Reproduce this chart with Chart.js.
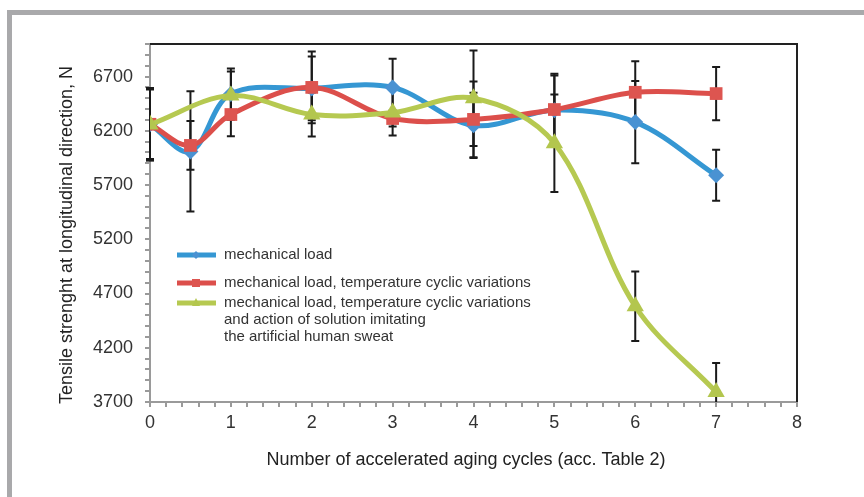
<!DOCTYPE html>
<html>
<head>
<meta charset="utf-8">
<script src="https://cdn.jsdelivr.net/npm/chart.js@4.4.1/dist/chart.umd.min.js"></script>
<style>
  html, body { margin: 0; padding: 0; background: #fff; }
  #wrap { width: 864px; height: 497px; position: relative; }
</style>
</head>
<body>
<div id="wrap"><canvas id="mychart"></canvas></div>
<script>
// cycles
var cyclesAB = [0, 0.5, 1, 2, 3, 4, 5, 6, 7];
var cyclesC = [0, 1, 2, 3, 4, 5, 6, 7];

// mechanical load
var loadVals = [6260, 6010, 6540, 6590, 6600, 6250, 6390, 6280, 5790];
var loadErr = [335, 555, 235, 294, 265, 300, 320, 380, 235];

// mechanical load, temperature cyclic variations
var tempVals = [6260, 6065, 6350, 6600, 6313, 6305, 6396, 6555, 6543];
var tempErr = [320, 225, 200, 330, 73, 350, 330, 285, 245];

// + artificial sweat
var sweatVals = [6258, 6525, 6350, 6368, 6500, 6085, 4582, 3792];
var sweatErr = [330, 222, 202, 211, 440, 450, 320, 267];

var labels = [
  ['mechanical load'],
  ['mechanical load, temperature cyclic variations'],
  ['mechanical load, temperature cyclic variations', 'and action of solution imitating', 'the artificial human sweat']
];

var yLabelFrom = 3700, yLabelStep = 500;

var FONT = '"Liberation Sans", Arial, sans-serif';

function pts(xs, ys, es) {
  return xs.map(function (x, i) { return { x: x, y: ys[i], e: es[i] }; });
}

// error bars, gray frame, black top/right edge, titles and legend
var extras = {
  id: 'extras',
  beforeDraw: function (chart) {
    var c = chart.ctx;
    c.save();
    c.fillStyle = '#a9a9ab';
    c.fillRect(7, 10, 857, 5);
    c.fillRect(7, 10, 5, 487);
    c.restore();
  },
  beforeDatasetsDraw: function (chart) {
    var c = chart.ctx, xs = chart.scales.x, ys = chart.scales.y, a = chart.chartArea;
    c.save();
    c.beginPath();
    c.rect(a.left - 10, a.top, a.right - a.left + 20, a.bottom - a.top);
    c.clip();
    c.strokeStyle = '#1a1a1a';
    c.lineWidth = 2;
    chart.data.datasets.forEach(function (ds) {
      ds.data.forEach(function (p) {
        var px = xs.getPixelForValue(p.x);
        var t = ys.getPixelForValue(p.y + p.e);
        var b = ys.getPixelForValue(p.y - p.e);
        c.beginPath();
        c.moveTo(px, t); c.lineTo(px, b);
        c.moveTo(px - 4, t); c.lineTo(px + 4, t);
        c.moveTo(px - 4, b); c.lineTo(px + 4, b);
        c.stroke();
      });
    });
    c.restore();
  },
  afterDraw: function (chart) {
    var c = chart.ctx, a = chart.chartArea;
    c.save();
    // top and right edge
    c.strokeStyle = '#222';
    c.lineWidth = 2;
    c.beginPath();
    c.moveTo(a.left, a.top);
    c.lineTo(a.right, a.top);
    c.lineTo(a.right, a.bottom);
    c.stroke();

    // axis titles
    c.fillStyle = '#222';
    c.font = '18px ' + FONT;
    c.textAlign = 'center';
    c.textBaseline = 'middle';
    c.fillText('Number of accelerated aging cycles (acc. Table 2)', 466, 460);
    c.save();
    c.translate(67, 235);
    c.rotate(-Math.PI / 2);
    c.fillText('Tensile strenght at longitudinal direction, N', 0, 0);
    c.restore();

    // legend
    var rows = [255, 283, 303];
    c.font = '15px ' + FONT;
    c.textAlign = 'left';
    chart.data.datasets.forEach(function (ds, i) {
      var y = rows[i];
      c.strokeStyle = ds.borderColor;
      c.lineWidth = 5;
      c.beginPath();
      c.moveTo(177, y); c.lineTo(216, y);
      c.stroke();
      c.fillStyle = ds.pointBackgroundColor;
      c.beginPath();
      if (i === 0) {
        c.moveTo(196, y - 4); c.lineTo(200, y); c.lineTo(196, y + 4); c.lineTo(192, y);
      } else if (i === 1) {
        c.rect(192, y - 4, 8, 8);
      } else {
        c.moveTo(196, y - 5); c.lineTo(200, y + 3); c.lineTo(192, y + 3);
      }
      c.fill();
      c.fillStyle = '#333';
      labels[i].forEach(function (t, k) {
        c.fillText(t, 224, y + k * 17);
      });
    });
    c.restore();
  }
};

new Chart(document.getElementById('mychart'), {
  type: 'line',
  data: {
    datasets: [
      {
        label: labels[0].join(' '),
        data: pts(cyclesAB, loadVals, loadErr),
        borderColor: '#3597d3',
        borderWidth: 5,
        pointStyle: 'rectRot',
        pointRadius: 8,
        pointBackgroundColor: '#4a92d2',
        pointBorderWidth: 0,
        tension: 0.35,
        order: 3
      },
      {
        label: labels[1].join(' '),
        data: pts(cyclesAB, tempVals, tempErr),
        borderColor: '#dc4f4b',
        borderWidth: 5,
        pointStyle: 'rect',
        pointRadius: 9,
        pointBackgroundColor: '#dd5550',
        pointBorderWidth: 0,
        tension: 0.35,
        order: 2
      },
      {
        label: labels[2].join(' '),
        data: pts(cyclesC, sweatVals, sweatErr),
        borderColor: '#b6c951',
        borderWidth: 5,
        pointStyle: 'triangle',
        pointRadius: 10,
        pointBackgroundColor: '#b3c64e',
        pointBorderWidth: 0,
        tension: 0.35,
        order: 1
      }
    ]
  },
  options: {
    responsive: true,
    maintainAspectRatio: false,
    animation: false,
    layout: { padding: { left: 0, top: 44, right: 67, bottom: 0 } },
    plugins: { legend: { display: false }, tooltip: { enabled: false } },
    scales: {
      x: {
        type: 'linear',
        min: 0,
        max: 8,
        afterFit: function (s) { s.height = 95; },
        border: { color: '#9a9a9a', width: 2 },
        grid: { drawOnChartArea: false, drawTicks: true, tickLength: 5, color: '#9a9a9a', lineWidth: 2 },
        ticks: {
          stepSize: 0.2,
          autoSkip: false,
          maxRotation: 0,
          padding: 5,
          color: '#333',
          font: { family: FONT, size: 18 },
          callback: function (v) {
            return Math.abs(v - Math.round(v)) < 1e-6 ? String(Math.round(v)) : '';
          }
        }
      },
      y: {
        min: 3700,
        max: 7000,
        afterFit: function (s) { s.width = 150; },
        border: { color: '#9a9a9a', width: 2 },
        grid: { drawOnChartArea: false, drawTicks: true, tickLength: 5, color: '#9a9a9a', lineWidth: 2 },
        ticks: {
          stepSize: 100,
          autoSkip: false,
          padding: 12,
          color: '#333',
          font: { family: FONT, size: 18 },
          callback: function (v) {
            var r = Math.round(v);
            return (r - yLabelFrom) % yLabelStep === 0 ? String(r) : '';
          }
        }
      }
    }
  },
  plugins: [extras]
});
</script>
</body>
</html>
